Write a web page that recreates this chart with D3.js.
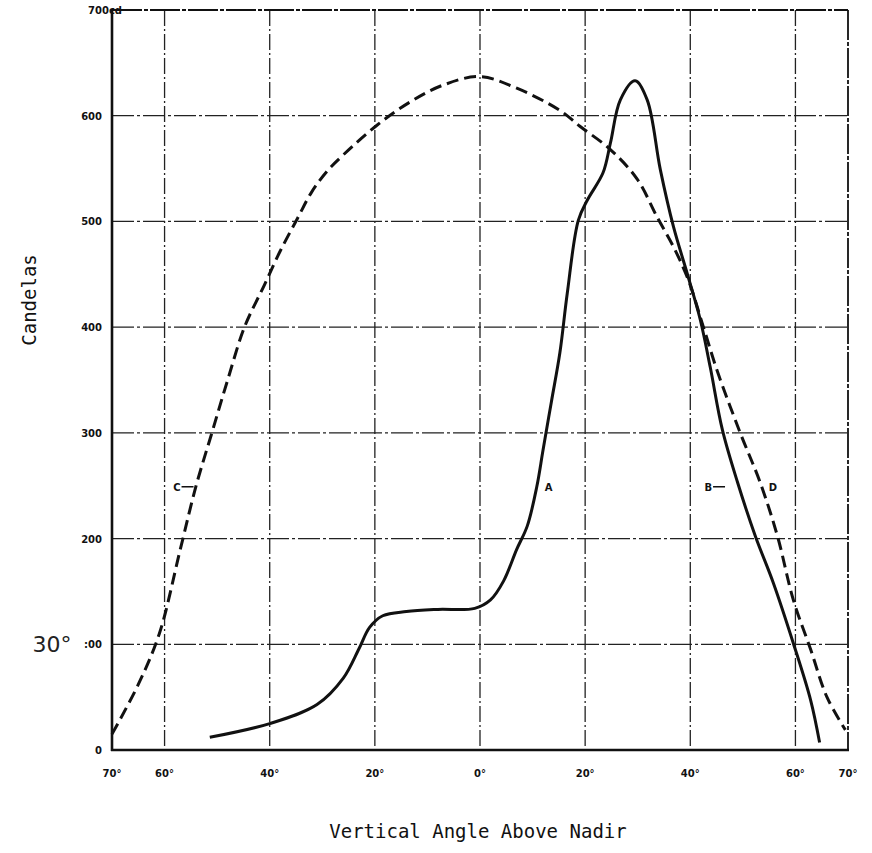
<!DOCTYPE html>
<html>
<head>
<meta charset="utf-8">
<script src="https://cdn.jsdelivr.net/npm/d3@7"></script>
<style>
  body { margin: 0; background: #fff; }
  svg { display: block; }
  .tick-label { font-family: "DejaVu Sans", sans-serif; font-size: 10px; font-weight: bold; fill: #111; }
  .axis-title { font-family: "DejaVu Sans Mono", monospace; font-size: 19px; fill: #111; }
  .curve-label { font-family: "DejaVu Sans", sans-serif; font-size: 10px; font-weight: bold; fill: #111; }
</style>
</head>
<body>
<div id="chart"></div>
<script>
// angle (degrees, negative = left side) and candela values
const solidAngles = [-51.4, -40, -31, -26, -23, -21, -18.5, -14, -8, -1, 2, 4.5, 7, 9, 10.8, 12, 13.6, 15.2, 16.6, 18.7, 20.4, 23.4, 24.8, 26.7, 29.5, 31.8, 34.3, 36.8, 39.4, 41.9, 43.8, 46.1, 49, 52.4, 55.8, 59.6, 62.9, 64.6];
const solidValues = [12, 25, 43, 68, 96, 116, 127, 131, 133, 134, 142, 160, 190, 212, 249, 284, 330, 376, 432, 501, 520, 546, 574, 615, 633, 615, 549, 495, 451, 407, 362, 303, 253, 202, 158, 101, 47, 7];

const dashedAngles = [-70, -65, -61, -57, -54, -51, -48, -44.8, -41, -38, -34.7, -32, -29, -26, -19.6, -13.3, -7, 0, 7, 15.2, 19, 24.8, 29.9, 33.7, 36.8, 39.6, 42.5, 45.1, 49.5, 53.3, 56.6, 59.6, 62.9, 66, 69.5];
const dashedValues = [15, 62, 110, 190, 250, 300, 350, 400, 440, 472, 503, 528, 548, 563, 591, 613, 629, 637, 626, 605, 590, 568, 540, 504, 476, 445, 400, 359, 300, 253, 202, 142, 95, 50, 19];

const xGrid = [-60, -40, -20, 0, 20, 40, 60];
const xTicks = [-70, -60, -40, -20, 0, 20, 40, 60, 70];
const xTickLabels = ["70°", "60°", "40°", "20°", "0°", "20°", "40°", "60°", "70°"];
const yTicks = [0, 100, 200, 300, 400, 500, 600, 700];
const yTickLabels = ["0", ":00", "200", "300", "400", "500", "600", "700cd"];

const curveLabels = [
  { text: "C", angle: -54.3, value: 249, dx: -14, tick: true },
  { text: "A", angle: 10.8, value: 249, dx: 8, tick: false },
  { text: "B", angle: 46.8, value: 249, dx: -14, tick: true },
  { text: "D", angle: 53, value: 249, dx: 10, tick: false }
];

const width = 872, height = 853;
const margin = { top: 10, right: 24, bottom: 103, left: 112 };

const x = d3.scaleLinear().domain([-70, 70]).range([margin.left, width - margin.right]);
const y = d3.scaleLinear().domain([0, 700]).range([height - margin.bottom, margin.top]);

const svg = d3.select("#chart").append("svg")
  .attr("width", width)
  .attr("height", height);

// grid
const gGrid = svg.append("g").attr("class", "grid-g");
gGrid.selectAll(".vgrid")
  .data(xGrid)
  .join("line")
  .attr("class", "vgrid")
  .attr("x1", d => x(d)).attr("x2", d => x(d))
  .attr("y1", y(700)).attr("y2", y(0))
  .attr("stroke", "#222")
  .attr("stroke-width", 1.3)
  .attr("stroke-dasharray", "16,3,2,3");
gGrid.selectAll(".hgrid")
  .data(yTicks.slice(1, -1))
  .join("line")
  .attr("class", "hgrid")
  .attr("x1", x(-70)).attr("x2", x(70))
  .attr("y1", d => y(d)).attr("y2", d => y(d))
  .attr("stroke", "#222")
  .attr("stroke-width", 1.3)
  .attr("stroke-dasharray", "22,3,3,3");

// frame
const gFrame = svg.append("g").attr("class", "frame-g");
gFrame.append("line")
  .attr("x1", x(-70)).attr("x2", x(70)).attr("y1", y(700)).attr("y2", y(700))
  .attr("stroke", "#111").attr("stroke-width", 1.8).attr("stroke-dasharray", "30,2,4,2");
gFrame.append("line")
  .attr("x1", x(70)).attr("x2", x(70)).attr("y1", y(700)).attr("y2", y(0))
  .attr("stroke", "#111").attr("stroke-width", 1.8).attr("stroke-dasharray", "30,2,4,2");
gFrame.append("line")
  .attr("x1", x(-70)).attr("x2", x(-70)).attr("y1", y(700) - 1).attr("y2", y(0) + 1)
  .attr("stroke", "#111").attr("stroke-width", 2.6);
gFrame.append("line")
  .attr("x1", x(-70) - 1).attr("x2", x(70) + 1).attr("y1", y(0)).attr("y2", y(0))
  .attr("stroke", "#111").attr("stroke-width", 2.6);

// curves
const line = d3.line()
  .x(d => x(d[0]))
  .y(d => y(d[1]))
  .curve(d3.curveCatmullRom.alpha(0.5));

const gLines = svg.append("g").attr("class", "lines-g");
gLines.append("path")
  .datum(d3.zip(dashedAngles, dashedValues))
  .attr("d", line)
  .attr("fill", "none")
  .attr("stroke", "#111")
  .attr("stroke-width", 3)
  .attr("stroke-dasharray", "12,6");
gLines.append("path")
  .datum(d3.zip(solidAngles, solidValues))
  .attr("d", line)
  .attr("fill", "none")
  .attr("stroke", "#111")
  .attr("stroke-width", 3);

// curve labels
const gLabels = svg.append("g").attr("class", "labels-g");
curveLabels.forEach(d => {
  const cx = x(d.angle), cy = y(d.value);
  gLabels.append("text")
    .attr("class", "curve-label")
    .attr("x", cx + d.dx)
    .attr("y", cy + 4)
    .attr("text-anchor", d.dx < 0 ? "end" : "start")
    .text(d.text);
  if (d.tick) {
    gLabels.append("line")
      .attr("x1", cx + d.dx + 1).attr("x2", cx - 1)
      .attr("y1", cy).attr("y2", cy)
      .attr("stroke", "#111").attr("stroke-width", 1.5);
  }
});

// tick labels
const gX = svg.append("g").attr("class", "axis-g axis-g--x");
gX.selectAll("text")
  .data(xTicks)
  .join("text")
  .attr("class", "tick-label")
  .attr("x", d => x(d))
  .attr("y", y(0) + 27)
  .attr("text-anchor", "middle")
  .text((d, i) => xTickLabels[i]);

const gY = svg.append("g").attr("class", "axis-g axis-g--y");
gY.selectAll("text")
  .data(yTicks)
  .join("text")
  .attr("class", "tick-label")
  .attr("x", (d, i) => i === yTicks.length - 1 ? x(-70) + 10 : x(-70) - 10)
  .attr("y", d => y(d) + 4)
  .attr("text-anchor", "end")
  .text((d, i) => yTickLabels[i]);

svg.append("text")
  .attr("x", 52)
  .attr("y", y(100) + 8)
  .attr("text-anchor", "middle")
  .style("font-family", "'DejaVu Sans', sans-serif")
  .style("font-size", "22px")
  .style("fill", "#222")
  .text("30°");

// axis titles
svg.append("text")
  .attr("class", "axis-title")
  .attr("x", 478)
  .attr("y", 838)
  .attr("text-anchor", "middle")
  .text("Vertical Angle Above Nadir");

svg.append("text")
  .attr("class", "axis-title")
  .attr("transform", "translate(36,300) rotate(-90)")
  .attr("text-anchor", "middle")
  .text("Candelas");
</script>
</body>
</html>
